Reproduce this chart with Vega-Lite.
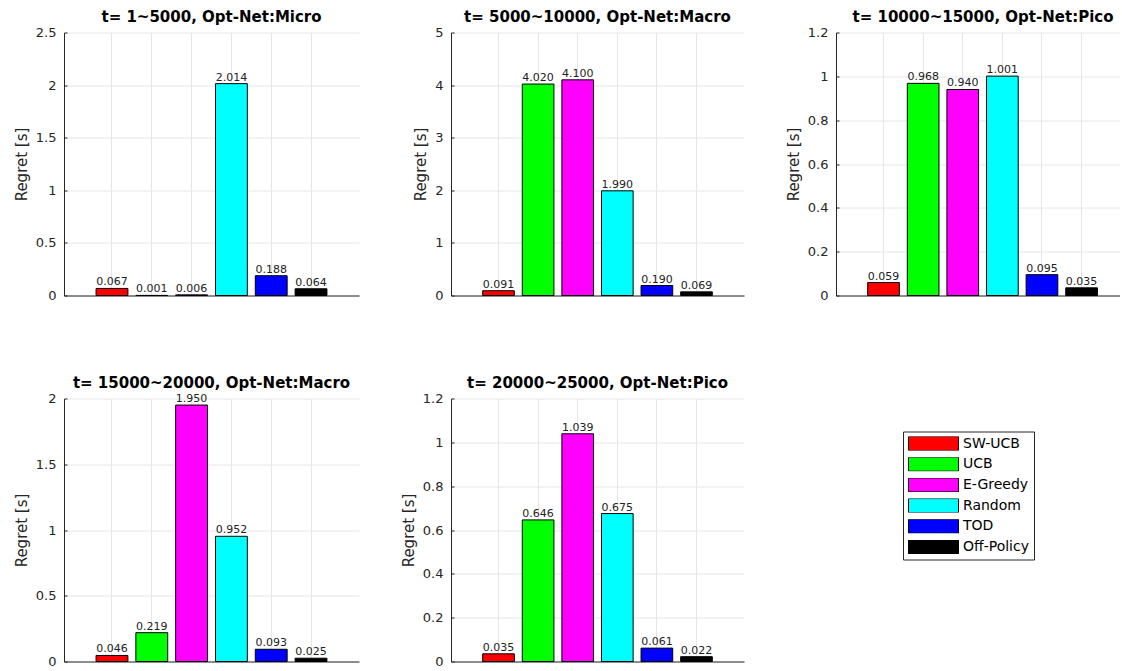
{
  "$schema": "https://vega.github.io/schema/vega-lite/v6.json",
  "padding": {"left": 14, "top": 9.5, "right": 0, "bottom": 0},
  "bounds": "flush",
  "columns": 3,
  "spacing": {"row": 103, "column": 92},
  "resolve": {"scale": {"x": "independent", "y": "independent"}},
  "datasets": {
    "d": [
      {"p": 1, "alg": "SW-UCB", "v": 0.067},
      {"p": 1, "alg": "UCB", "v": 0.001},
      {"p": 1, "alg": "E-Greedy", "v": 0.006},
      {"p": 1, "alg": "Random", "v": 2.014},
      {"p": 1, "alg": "TOD", "v": 0.188},
      {"p": 1, "alg": "Off-Policy", "v": 0.064},
      {"p": 2, "alg": "SW-UCB", "v": 0.091},
      {"p": 2, "alg": "UCB", "v": 4.020},
      {"p": 2, "alg": "E-Greedy", "v": 4.100},
      {"p": 2, "alg": "Random", "v": 1.990},
      {"p": 2, "alg": "TOD", "v": 0.190},
      {"p": 2, "alg": "Off-Policy", "v": 0.069},
      {"p": 3, "alg": "SW-UCB", "v": 0.059},
      {"p": 3, "alg": "UCB", "v": 0.968},
      {"p": 3, "alg": "E-Greedy", "v": 0.940},
      {"p": 3, "alg": "Random", "v": 1.001},
      {"p": 3, "alg": "TOD", "v": 0.095},
      {"p": 3, "alg": "Off-Policy", "v": 0.035},
      {"p": 4, "alg": "SW-UCB", "v": 0.046},
      {"p": 4, "alg": "UCB", "v": 0.219},
      {"p": 4, "alg": "E-Greedy", "v": 1.950},
      {"p": 4, "alg": "Random", "v": 0.952},
      {"p": 4, "alg": "TOD", "v": 0.093},
      {"p": 4, "alg": "Off-Policy", "v": 0.025},
      {"p": 5, "alg": "SW-UCB", "v": 0.035},
      {"p": 5, "alg": "UCB", "v": 0.646},
      {"p": 5, "alg": "E-Greedy", "v": 1.039},
      {"p": 5, "alg": "Random", "v": 0.675},
      {"p": 5, "alg": "TOD", "v": 0.061},
      {"p": 5, "alg": "Off-Policy", "v": 0.022}
    ]
  },
  "config": {
    "font": "DejaVu Sans",
    "view": {"stroke": null},
    "axis": {
      "domainColor": "#262626",
      "domainWidth": 1,
      "gridColor": "#e6e6e6",
      "gridWidth": 1,
      "tickColor": "#262626",
      "labelFont": "DejaVu Sans",
      "labelFontSize": 13,
      "labelColor": "#262626",
      "titleFont": "DejaVu Sans",
      "titleFontSize": 15,
      "titleFontWeight": "normal",
      "titleColor": "#262626"
    },
    "axisY": {"tickSize": -3, "labelPadding": 11, "titlePadding": 6, "grid": true},
    "title": {"font": "DejaVu Sans", "fontSize": 15, "fontWeight": "bold", "color": "#000000", "offset": 1.5, "frame": "group"}
  },
  "concat": [
    {
      "title": {"text": "t= 1~5000, Opt-Net:Micro"},
      "width": 295, "height": 263,
      "data": {"name": "d"},
      "transform": [{"filter": "datum.p == 1"}],
      "encoding": {
        "x": {"field": "alg", "type": "nominal", "sort": ["SW-UCB", "UCB", "E-Greedy", "Random", "TOD", "Off-Policy"], "scale": {"paddingInner": 0.2, "paddingOuter": 0.805}, "axis": {"title": null, "labels": false, "ticks": false, "grid": true, "bandPosition": 0.5}},
        "y": {"field": "v", "type": "quantitative", "scale": {"domain": [0, 2.5], "nice": false}, "axis": {"title": "Regret [s]", "values": [0, 0.5, 1, 1.5, 2, 2.5], "format": "~g"}}
      },
      "layer": [
        {"mark": {"type": "bar", "stroke": "#000000", "strokeWidth": 1},
         "encoding": {"color": {"field": "alg", "type": "nominal", "scale": {"domain": ["SW-UCB", "UCB", "E-Greedy", "Random", "TOD", "Off-Policy"], "range": ["#ff0000", "#00ff00", "#ff00ff", "#00ffff", "#0000ff", "#000000"]}, "legend": {"orient": "none", "legendX": 839, "legendY": 399, "title": null, "symbolType": "M-1,-0.28H1V0.28H-1Z", "symbolSize": 2500, "symbolStrokeColor": "#000000", "symbolStrokeWidth": 1, "symbolOpacity": 1, "clipHeight": 14, "rowPadding": 6.7, "padding": 5, "labelFont": "DejaVu Sans", "labelFontSize": 14, "labelColor": "#000000", "labelOffset": 4, "strokeColor": "#262626", "fillColor": "#ffffff"}}}},
        {"mark": {"type": "text", "baseline": "alphabetic", "dy": -3, "fontSize": 11, "color": "#222222"},
         "encoding": {"text": {"field": "v", "type": "quantitative", "format": ".3f"}}}
      ]
    },
    {
      "title": {"text": "t= 5000~10000, Opt-Net:Macro"},
      "width": 293, "height": 263,
      "data": {"name": "d"},
      "transform": [{"filter": "datum.p == 2"}],
      "encoding": {
        "x": {"field": "alg", "type": "nominal", "sort": ["SW-UCB", "UCB", "E-Greedy", "Random", "TOD", "Off-Policy"], "scale": {"paddingInner": 0.2, "paddingOuter": 0.8}, "axis": {"title": null, "labels": false, "ticks": false, "grid": true, "bandPosition": 0.5}},
        "y": {"field": "v", "type": "quantitative", "scale": {"domain": [0, 5], "nice": false}, "axis": {"title": "Regret [s]", "values": [0, 1, 2, 3, 4, 5], "format": "~g"}}
      },
      "layer": [
        {"mark": {"type": "bar", "stroke": "#000000", "strokeWidth": 1},
         "encoding": {"color": {"field": "alg", "type": "nominal", "scale": {"domain": ["SW-UCB", "UCB", "E-Greedy", "Random", "TOD", "Off-Policy"], "range": ["#ff0000", "#00ff00", "#ff00ff", "#00ffff", "#0000ff", "#000000"]}}}},
        {"mark": {"type": "text", "baseline": "alphabetic", "dy": -3, "fontSize": 11, "color": "#222222"},
         "encoding": {"text": {"field": "v", "type": "quantitative", "format": ".3f"}}}
      ]
    },
    {
      "title": {"text": "t= 10000~15000, Opt-Net:Pico", "dx": 5},
      "width": 284, "height": 263,
      "data": {"name": "d"},
      "transform": [{"filter": "datum.p == 3"}],
      "encoding": {
        "x": {"field": "alg", "type": "nominal", "sort": ["SW-UCB", "UCB", "E-Greedy", "Random", "TOD", "Off-Policy"], "scale": {"paddingInner": 0.2, "paddingOuter": 0.685, "align": 0.584}, "axis": {"title": null, "labels": false, "ticks": false, "grid": true, "bandPosition": 0.5}},
        "y": {"field": "v", "type": "quantitative", "scale": {"domain": [0, 1.2], "nice": false}, "axis": {"title": "Regret [s]", "values": [0, 0.2, 0.4, 0.6, 0.8, 1, 1.2], "format": "~g"}}
      },
      "layer": [
        {"mark": {"type": "bar", "stroke": "#000000", "strokeWidth": 1},
         "encoding": {"color": {"field": "alg", "type": "nominal", "scale": {"domain": ["SW-UCB", "UCB", "E-Greedy", "Random", "TOD", "Off-Policy"], "range": ["#ff0000", "#00ff00", "#ff00ff", "#00ffff", "#0000ff", "#000000"]}}}},
        {"mark": {"type": "text", "baseline": "alphabetic", "dy": -3, "fontSize": 11, "color": "#222222"},
         "encoding": {"text": {"field": "v", "type": "quantitative", "format": ".3f"}}}
      ]
    },
    {
      "title": {"text": "t= 15000~20000, Opt-Net:Macro"},
      "width": 295, "height": 263,
      "data": {"name": "d"},
      "transform": [{"filter": "datum.p == 4"}],
      "encoding": {
        "x": {"field": "alg", "type": "nominal", "sort": ["SW-UCB", "UCB", "E-Greedy", "Random", "TOD", "Off-Policy"], "scale": {"paddingInner": 0.2, "paddingOuter": 0.805}, "axis": {"title": null, "labels": false, "ticks": false, "grid": true, "bandPosition": 0.5}},
        "y": {"field": "v", "type": "quantitative", "scale": {"domain": [0, 2], "nice": false}, "axis": {"title": "Regret [s]", "values": [0, 0.5, 1, 1.5, 2], "format": "~g"}}
      },
      "layer": [
        {"mark": {"type": "bar", "stroke": "#000000", "strokeWidth": 1},
         "encoding": {"color": {"field": "alg", "type": "nominal", "scale": {"domain": ["SW-UCB", "UCB", "E-Greedy", "Random", "TOD", "Off-Policy"], "range": ["#ff0000", "#00ff00", "#ff00ff", "#00ffff", "#0000ff", "#000000"]}}}},
        {"mark": {"type": "text", "baseline": "alphabetic", "dy": -3, "fontSize": 11, "color": "#222222"},
         "encoding": {"text": {"field": "v", "type": "quantitative", "format": ".3f"}}}
      ]
    },
    {
      "title": {"text": "t= 20000~25000, Opt-Net:Pico"},
      "width": 293, "height": 263,
      "data": {"name": "d"},
      "transform": [{"filter": "datum.p == 5"}],
      "encoding": {
        "x": {"field": "alg", "type": "nominal", "sort": ["SW-UCB", "UCB", "E-Greedy", "Random", "TOD", "Off-Policy"], "scale": {"paddingInner": 0.2, "paddingOuter": 0.8}, "axis": {"title": null, "labels": false, "ticks": false, "grid": true, "bandPosition": 0.5}},
        "y": {"field": "v", "type": "quantitative", "scale": {"domain": [0, 1.2], "nice": false}, "axis": {"title": "Regret [s]", "values": [0, 0.2, 0.4, 0.6, 0.8, 1, 1.2], "format": "~g"}}
      },
      "layer": [
        {"mark": {"type": "bar", "stroke": "#000000", "strokeWidth": 1},
         "encoding": {"color": {"field": "alg", "type": "nominal", "scale": {"domain": ["SW-UCB", "UCB", "E-Greedy", "Random", "TOD", "Off-Policy"], "range": ["#ff0000", "#00ff00", "#ff00ff", "#00ffff", "#0000ff", "#000000"]}}}},
        {"mark": {"type": "text", "baseline": "alphabetic", "dy": -3, "fontSize": 11, "color": "#222222"},
         "encoding": {"text": {"field": "v", "type": "quantitative", "format": ".3f"}}}
      ]
    }
  ]
}
